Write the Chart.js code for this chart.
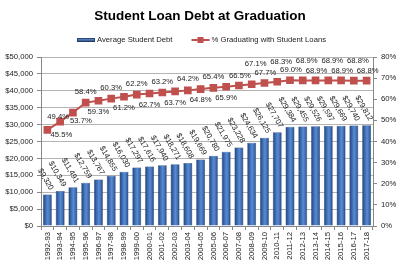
<!DOCTYPE html>
<html>
<head>
<meta charset="utf-8">
<script src="https://cdn.jsdelivr.net/npm/chart.js@4.4.1/dist/chart.umd.min.js"></script>
<style>
  html, body { margin: 0; padding: 0; background: #fff; }
  #wrap { width: 400px; height: 266px; }
</style>
</head>
<body>
<div id="wrap"><canvas id="chart"></canvas></div>
<script>
const years = ['1992-93', '1993-94', '1994-95', '1995-96', '1996-97', '1997-98', '1998-99',
    '1999-00', '2000-01', '2001-02', '2002-03', '2003-04', '2004-05', '2005-06', '2006-07',
    '2007-08', '2008-09', '2009-10', '2010-11', '2011-12', '2012-13', '2013-14', '2014-15',
    '2015-16', '2016-17', '2017-18'];

const avgDebt = [9320, 10349, 11491, 12759, 13767, 14855, 16030, 17297, 17616, 17940, 18271,
    18608, 19669, 20780, 21975, 23228, 24634, 26125, 27707, 29384, 29455, 29526, 29597,
    29669, 29740, 29812];

const pctWithLoans = [45.5, 49.4, 53.7, 58.4, 59.3, 60.3, 61.2, 62.2, 62.7, 63.2, 63.7, 64.2,
    64.8, 65.4, 65.9, 66.5, 67.1, 67.7, 68.3, 69.0, 68.9, 68.9, 68.9, 68.9, 68.8, 68.8];

const seriesNames = ['Average Student Debt', '% Graduating with Student Loans'];

const FONT = 'Liberation Sans, Arial, sans-serif';
const BLUE = '#3a68ad';
const RED = '#c0504d';

function money(v) {
    return '$' + Number(v).toLocaleString('en-US');
}

// where each % label sits relative to its point (Excel placed them by hand)
function pctLabelOffset(i) {
    if (i === 0) return [14, 5];
    if (i === 1) return [-2, -5];
    if (i === 2) return [8, 8];
    if (i < 15) return [0, i % 2 ? -11 : 11];
    return i % 2 ? [1, -10] : [4, -20];
}

function barGradient(ctx) {
    const chart = ctx.chart;
    const xs = chart.scales.x;
    if (!xs || !xs.width) return BLUE;
    const x = xs.getPixelForValue(ctx.dataIndex);
    const w = xs.width / years.length * 0.7;
    const g = chart.ctx.createLinearGradient(x - w / 2, 0, x + w / 2, 0);
    g.addColorStop(0, '#1f3d72');
    g.addColorStop(0.3, '#3c6db4');
    g.addColorStop(0.55, '#5a8ad0');
    g.addColorStop(0.8, '#3c6db4');
    g.addColorStop(1, '#1d3866');
    return g;
}

const valueLabels = {
    id: 'valueLabels',
    afterDatasetsDraw(chart) {
        const ctx = chart.ctx;
        ctx.save();
        ctx.fillStyle = '#222';
        ctx.font = '7.7px ' + FONT;

        // bar labels, tilted
        chart.getDatasetMeta(0).data.forEach(function (bar, i) {
            ctx.save();
            ctx.translate(bar.x + 4, bar.y - 5);
            ctx.rotate(Math.PI / 3);
            ctx.textAlign = 'right';
            ctx.textBaseline = 'middle';
            ctx.fillText(money(avgDebt[i]), 0, 0);
            ctx.restore();
        });

        // line labels
        ctx.textAlign = 'center';
        ctx.textBaseline = 'middle';
        chart.getDatasetMeta(1).data.forEach(function (pt, i) {
            const off = pctLabelOffset(i);
            ctx.fillText(pctWithLoans[i].toFixed(1) + '%', pt.x + off[0], pt.y + off[1]);
        });
        ctx.restore();
    }
};

// legend drawn by hand, Excel style (bar swatch + line-with-marker swatch)
const excelLegend = {
    id: 'excelLegend',
    afterDraw(chart) {
        const ctx = chart.ctx;
        const y = 40;
        ctx.save();
        ctx.font = '7.7px ' + FONT;
        ctx.textBaseline = 'middle';
        ctx.textAlign = 'left';
        const w0 = ctx.measureText(seriesNames[0]).width;
        const w1 = ctx.measureText(seriesNames[1]).width;
        const total = 18 + 2 + w0 + 19 + 18 + 2 + w1;
        let x = Math.round(201.5 - total / 2);

        // bar swatch
        const grad = ctx.createLinearGradient(0, y - 2, 0, y + 2);
        grad.addColorStop(0, '#6f9ad6');
        grad.addColorStop(1, '#24467e');
        ctx.fillStyle = grad;
        ctx.fillRect(x, y - 2, 18, 4);
        ctx.strokeStyle = '#1f3864';
        ctx.lineWidth = 0.8;
        ctx.strokeRect(x + 0.4, y - 1.6, 17.2, 3.2);
        ctx.fillStyle = '#222';
        ctx.fillText(seriesNames[0], x + 20, y);
        x += 20 + w0 + 19;

        // line swatch
        ctx.fillStyle = RED;
        ctx.fillRect(x, y - 1, 18, 2);
        ctx.fillRect(x + 6, y - 3, 6, 6);
        ctx.fillStyle = '#222';
        ctx.fillText(seriesNames[1], x + 20, y);
        ctx.restore();
    }
};

Chart.defaults.font.family = FONT;
Chart.defaults.color = '#222';

new Chart(document.getElementById('chart'), {
    data: {
        labels: years,
        datasets: [{
            type: 'bar',
            label: seriesNames[0],
            data: avgDebt,
            yAxisID: 'y',
            backgroundColor: barGradient,
            borderColor: '#1f3864',
            borderWidth: 0.5,
            barPercentage: 0.7,
            categoryPercentage: 1,
            order: 1
        }, {
            type: 'line',
            label: seriesNames[1],
            data: pctWithLoans,
            yAxisID: 'y1',
            borderColor: RED,
            backgroundColor: RED,
            borderWidth: 2,
            pointStyle: 'rect',
            pointRadius: 4,
            pointHoverRadius: 4,
            tension: 0,
            order: 0
        }]
    },
    options: {
        responsive: true,
        maintainAspectRatio: false,
        animation: false,
        layout: { padding: 0 },
        plugins: {
            title: {
                display: true,
                text: 'Student Loan Debt at Graduation',
                color: '#000',
                font: { size: 13.5, weight: 'bold' },
                // bottom padding leaves room for the hand drawn legend
                padding: { top: 8, bottom: 32.8 }
            },
            legend: { display: false },
            tooltip: { enabled: false }
        },
        scales: {
            x: {
                offset: true,
                grid: {
                    offset: true,
                    drawOnChartArea: false,
                    drawTicks: true,
                    tickLength: 4,
                    color: '#888'
                },
                border: { color: '#888' },
                ticks: {
                    autoSkip: false,
                    minRotation: 90,
                    maxRotation: 90,
                    padding: 2,
                    font: { size: 7.7 },
                    color: '#222'
                },
                afterFit: function (s) { s.height = 40; }
            },
            y: {
                position: 'left',
                min: 0,
                max: 50000,
                ticks: {
                    stepSize: 5000,
                    padding: 4,
                    font: { size: 7.7 },
                    color: '#222',
                    callback: function (v) { return money(v); }
                },
                grid: { color: '#b4b4b4', tickLength: 4, tickColor: '#888' },
                border: { color: '#888' },
                afterFit: function (s) { s.width = 41; }
            },
            y1: {
                position: 'right',
                min: 0,
                max: 80,
                ticks: {
                    stepSize: 10,
                    padding: 4,
                    font: { size: 7.7 },
                    color: '#222',
                    callback: function (v) { return v + '%'; }
                },
                grid: { drawOnChartArea: false, tickLength: 4, color: '#888' },
                border: { color: '#888' },
                afterFit: function (s) { s.width = 27; }
            }
        }
    },
    plugins: [valueLabels, excelLegend]
});
</script>
</body>
</html>
